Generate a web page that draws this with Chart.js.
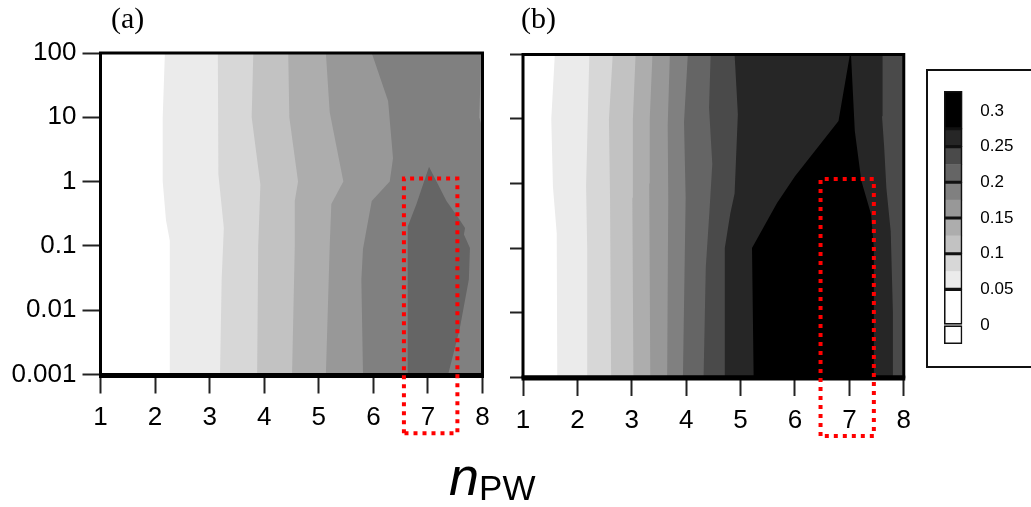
<!DOCTYPE html>
<html>
<head>
<meta charset="utf-8">
<script src="https://cdn.jsdelivr.net/npm/chart.js@4.4.1/dist/chart.umd.min.js"></script>
<style>
  html, body { margin: 0; padding: 0; background: #fff; }
  body { width: 1031px; height: 507px; position: relative; overflow: hidden; font-family: 'Liberation Sans', Arial, sans-serif; }
  .panel { position: absolute; top: 0; height: 507px; }
  #wrapA { left: 0; width: 500px; }
  #wrapB { left: 500px; width: 420px; }
  .tag { position: absolute; top: 0px; font-family: 'Liberation Serif', 'Times New Roman', serif; font-size: 30px; line-height: 1.2; color: #000; }
  #scaleBox { position: absolute; left: 926px; top: 69px; width: 140px; height: 295px; border: 2px solid #111; }
  #wrapBar { position: absolute; left: 930px; top: 80px; width: 100px; height: 280px; }
  #axisTitle { position: absolute; left: 449px; top: 449px; font-size: 54px; line-height: 1; color: #000; white-space: nowrap; }
  #axisTitle i { font-style: italic; }
  #axisTitle span { font-size: 35px; vertical-align: -5px; }
</style>
</head>
<body>
<div class="panel" id="wrapA"><canvas id="chartA"></canvas></div>
<div class="panel" id="wrapB"><canvas id="chartB"></canvas></div>
<div class="tag" style="left:111px">(a)</div>
<div class="tag" style="left:521px">(b)</div>
<div id="scaleBox"></div>
<div id="wrapBar"><canvas id="chartBar"></canvas></div>
<div id="axisTitle"><i>n</i><span>PW</span></div>

<script>
// axis ticks
const nTicks = [1, 2, 3, 4, 5, 6, 7, 8];
const lambdaTicks = [0.001, 0.01, 0.1, 1, 10, 100];
const lambdaLabels = ["0.001", "0.01", "0.1", "1", "10", "100"];

// grey for each contour level, 0 = white ... 10 = black
const bandColors = ["#ffffff", "#ebebeb", "#d7d7d7", "#c2c2c2", "#adadad", "#989898",
                    "#808080", "#656565", "#4a4a4a", "#262626", "#000000"];

// colour bar: segment edges, level of each segment, outlined groups, labels
const barEdges = [-0.0266, 0, 0.05, 0.075, 0.1, 0.125, 0.15, 0.175, 0.2, 0.225, 0.25, 0.275, 0.328];
const barLevels = [0, 0, 1, 2, 3, 4, 5, 6, 7, 8, 9, 10];
const barGroups = [-0.0266, 0, 0.05, 0.1, 0.15, 0.2, 0.25, 0.275, 0.328];
const barTicks = [0, 0.05, 0.1, 0.15, 0.2, 0.25, 0.3];
const barTickLabels = ["0", "0.05", "0.1", "0.15", "0.2", "0.25", "0.3"];

// (a) contour edges, [n, value] from bottom to top
const a1 = [[2.26, 0.001], [2.27, 0.12], [2.20, 0.25], [2.14, 1], [2.14, 10], [2.18, 100]];
const a2 = [[3.19, 0.001], [3.22, 0.03], [3.26, 0.19], [3.21, 0.5], [3.16, 1.3], [3.15, 100]];
const a3 = [[3.87, 0.001], [3.89, 0.1], [3.93, 0.9], [3.85, 3], [3.77, 10], [3.80, 100]];
const a4 = [[4.51, 0.001], [4.56, 0.1], [4.56, 0.5], [4.62, 1], [4.46, 10], [4.44, 100]];
const a5 = [[5.13, 0.001], [5.20, 0.1], [5.23, 0.45], [5.45, 1], [5.20, 12], [5.13, 100]];
const a6 = [[5.81, 0.001], [5.78, 0.03], [5.81, 0.09], [5.97, 0.5], [6.30, 1], [6.36, 2.3], [6.27, 18], [5.97, 100]];
const aCore = [[6.62, 0.001], [6.63, 0.2], [6.79, 0.45], [7.02, 1.7], [7.34, 0.5], [7.55, 0.28], [7.68, 0.19],
               [7.66, 0.15], [7.77, 0.093], [7.75, 0.03], [7.58, 0.005], [7.37, 0.001]];
const aSliver = [[7.98, 100], [7.94, 10], [8, 6.7], [8, 100]];
const boxA = [[6.56, 1.22e-4], [6.56, 1.12], [7.54, 1.12], [7.54, 1.22e-4], [6.56, 1.22e-4]];

// (b) contour edges
const b1 = [[1.63, 0.001], [1.62, 0.17], [1.55, 0.9], [1.52, 10], [1.585, 100]];
const b2 = [[2.19, 0.001], [2.18, 0.1], [2.16, 0.9], [2.19, 10], [2.22, 100]];
const b3 = [[2.62, 0.001], [2.60, 0.6], [2.58, 10], [2.65, 100]];
const b4 = [[3.03, 0.001], [3.01, 0.6], [3.02, 10], [3.07, 100]];
const b5 = [[3.34, 0.001], [3.32, 1], [3.33, 10], [3.38, 100]];
const b6 = [[3.65, 0.001], [3.67, 0.6], [3.66, 8], [3.70, 100]];
const b7 = [[3.94, 0.001], [3.99, 0.6], [3.96, 9], [4.03, 100]];
const b8 = [[4.32, 0.001], [4.36, 0.05], [4.43, 0.4], [4.48, 2], [4.42, 15], [4.45, 100]];
const b9 = [[4.71, 0.001], [4.71, 0.1], [4.81, 0.34], [4.89, 0.7], [4.95, 12], [4.89, 100]];
const bCore = [[5.24, 0.001], [5.21, 0.1], [5.67, 0.5], [6.0, 1.3], [6.8, 9.3], [7.01, 100], [7.03, 100],
               [7.10, 6.5], [7.22, 1.1], [7.40, 0.33], [7.45, 0.1], [7.45, 0.001]];
const b10 = [[7.80, 0.001], [7.80, 0.01], [7.76, 0.18], [7.68, 0.85], [7.64, 3.6], [7.60, 11], [7.61, 100]];
const boxB = [[6.47, 1.22e-4], [6.47, 1.17], [7.45, 1.17], [7.45, 1.22e-4], [6.47, 1.22e-4]];

const tickFont = { family: "'Liberation Sans', Arial, sans-serif", size: 26 };

// close an edge against the right side of the plot
function toRight(pts) {
    return pts.concat([[8, 100], [8, 0.001]]);
}

// regions in painting order: [polygon, level]
const regionsA = [
    [toRight(a1), 1], [toRight(a2), 2], [toRight(a3), 3], [toRight(a4), 4],
    [toRight(a5), 5], [toRight(a6), 6], [aCore, 7], [aSliver, 5]
];
const regionsB = [
    [toRight(b1), 1], [toRight(b2), 2], [toRight(b3), 3], [toRight(b4), 4], [toRight(b5), 5],
    [toRight(b6), 6], [toRight(b7), 7], [toRight(b8), 8], [toRight(b9), 9], [bCore, 10], [toRight(b10), 8]
];

function buildDatasets(regions, box) {
    const sets = regions.map(([pts, level], i) => ({
        label: "band" + i,
        data: pts.map(([x, y]) => ({ x, y })),
        fill: "shape",
        backgroundColor: bandColors[level],
        borderColor: "rgba(0,0,0,0)",
        borderWidth: 0,
        pointRadius: 0,
        order: regions.length - i
    }));
    sets.push({
        label: "box",
        data: box.map(([x, y]) => ({ x, y })),
        fill: false,
        borderColor: "#ff0000",
        borderWidth: 4,
        borderDash: [4, 5],
        pointRadius: 0,
        clip: false,
        order: 0
    });
    return sets;
}

// black frame round the plot, thicker along the bottom; drawn just before the red box
const framePlugin = {
    id: "frame",
    beforeDatasetDraw(chart, args) {
        if (chart.data.datasets[args.index].label !== "box") return;
        const { ctx, chartArea: a } = chart;
        ctx.save();
        ctx.strokeStyle = "#000";
        ctx.lineWidth = 3;
        ctx.strokeRect(a.left, a.top, a.right - a.left, a.bottom - a.top);
        ctx.lineWidth = 5;
        ctx.beginPath();
        ctx.moveTo(a.left - 1.5, a.bottom + 1);
        ctx.lineTo(a.right + 1.5, a.bottom + 1);
        ctx.stroke();
        ctx.restore();
    }
};

function makePanel(canvasId, regions, box, cfg) {
    return new Chart(document.getElementById(canvasId), {
        type: "line",
        data: { datasets: buildDatasets(regions, box) },
        options: {
            animation: false,
            responsive: true,
            maintainAspectRatio: false,
            layout: { padding: { top: cfg.top, right: cfg.right, bottom: cfg.bottom, left: 0 } },
            plugins: { legend: { display: false }, tooltip: { enabled: false } },
            scales: {
                x: {
                    type: "linear",
                    min: 1,
                    max: 8,
                    afterBuildTicks: s => { s.ticks = nTicks.map(v => ({ value: v })); },
                    afterFit: s => { s.height = 60; },
                    grid: { drawOnChartArea: false, tickLength: 19, tickWidth: 2, tickColor: "#222" },
                    border: { display: false },
                    ticks: { font: tickFont, color: "#000", padding: 9, maxRotation: 0, callback: v => String(v) }
                },
                y: {
                    type: "logarithmic",
                    min: 0.001,
                    max: 100,
                    afterBuildTicks: s => { s.ticks = lambdaTicks.map(v => ({ value: v })); },
                    afterFit: s => { s.width = cfg.axisWidth; },
                    grid: { drawOnChartArea: false, tickLength: cfg.tickLength, tickWidth: 2, tickColor: "#222" },
                    border: { display: false },
                    ticks: {
                        display: cfg.labels,
                        font: tickFont,
                        color: "#000",
                        padding: 6,
                        callback: (v, i) => lambdaLabels[i]
                    }
                }
            }
        },
        plugins: [framePlugin]
    });
}

makePanel("chartA", regionsA, boxA, { top: 53, right: 17.5, bottom: 72.5, axisWidth: 100.5, tickLength: 18, labels: true });
makePanel("chartB", regionsB, boxB, { top: 54.5, right: 13.5, bottom: 70, axisWidth: 23, tickLength: 13, labels: false });

// colour bar as floating bars
const barSets = [];
barGroups.slice(0, -1).forEach((lo, i) => {
    barSets.push({
        data: [[lo, barGroups[i + 1]]],
        backgroundColor: "rgba(0,0,0,0)",
        borderColor: "#111",
        borderWidth: 1.2,
        borderSkipped: false,
        grouped: false,
        barPercentage: 1,
        categoryPercentage: 1,
        order: 0
    });
});
barLevels.forEach((level, i) => {
    barSets.push({
        data: [[barEdges[i], barEdges[i + 1]]],
        backgroundColor: bandColors[level],
        borderWidth: 0,
        grouped: false,
        barPercentage: 1,
        categoryPercentage: 1,
        order: 1
    });
});

new Chart(document.getElementById("chartBar"), {
    type: "bar",
    data: { labels: [""], datasets: barSets },
    options: {
        animation: false,
        responsive: true,
        maintainAspectRatio: false,
        layout: { padding: { left: 14, top: 11, bottom: 16, right: 0 } },
        plugins: { legend: { display: false }, tooltip: { enabled: false } },
        scales: {
            x: { display: false },
            y: {
                position: "right",
                min: -0.0266,
                max: 0.328,
                afterBuildTicks: s => { s.ticks = barTicks.map(v => ({ value: v })); },
                afterFit: s => { s.width = 67.7; },
                // invisible tick marks push the labels away from the bar
                grid: { display: true, drawOnChartArea: false, drawTicks: true, tickLength: 18, tickColor: "rgba(0,0,0,0)" },
                border: { display: false },
                ticks: {
                    padding: 0,
                    color: "#000",
                    font: { family: "'Liberation Sans', Arial, sans-serif", size: 17 },
                    callback: (v, i) => barTickLabels[i]
                }
            }
        }
    }
});
</script>
</body>
</html>
